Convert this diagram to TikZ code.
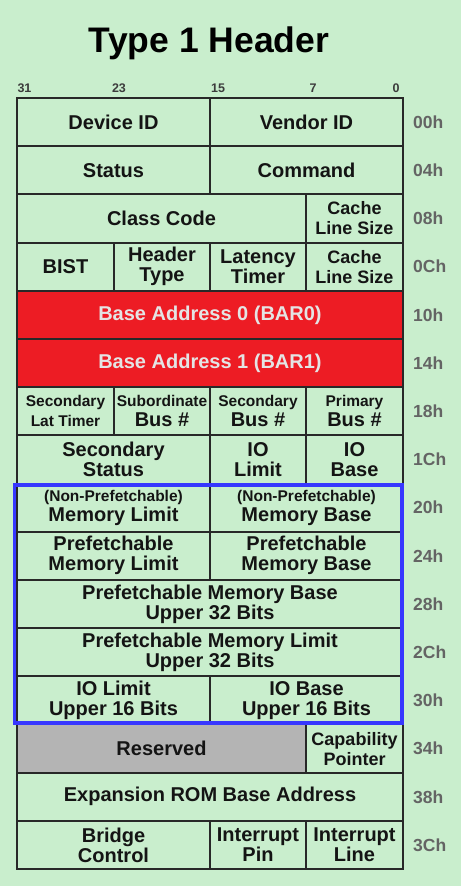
\documentclass[tikz,border=0pt]{standalone}
\usepackage{fontspec}
\setmainfont{Liberation Sans}
\definecolor{bgc}{RGB}{201,238,205}
\definecolor{barred}{RGB}{237,28,36}
\definecolor{redtxt}{RGB}{228,228,228}
\definecolor{resgray}{RGB}{180,180,180}
\definecolor{linec}{RGB}{40,40,40}
\definecolor{frameblue}{RGB}{55,55,255}
\definecolor{offc}{RGB}{100,100,100}
\definecolor{bitc}{RGB}{60,60,60}
\definecolor{txtc}{RGB}{20,20,20}
\newcommand\smallt{\fontsize{15.5}{18}\selectfont}
\newcommand\midt{\fontsize{18}{18.5}\selectfont}
\newcommand\cellat[6]{\node[cell,#5,minimum width={#3-#2},minimum height=48.19] (#1) at ({(#2+#3)/2},{98+48.19*(#4+0.5)}) {#6};}
\begin{document}
\begin{tikzpicture}[x=1pt,y=-1pt,
  cell/.style={draw=linec,line width=2pt,inner sep=0pt,align=center,text=txtc,
    font=\bfseries\fontsize{20}{20}\selectfont},
  redcell/.style={fill=barred,text=redtxt},
  graycell/.style={fill=resgray},
  plain/.style={},
  offs/.style={anchor=west,inner sep=0pt,text=offc,font=\bfseries\fontsize{17.5}{17.5}\selectfont},
  bitlab/.style={anchor=base,inner sep=0pt,text=bitc,font=\bfseries\fontsize{12.5}{12.5}\selectfont},
  blueframe/.style={draw=frameblue,line width=3.5pt}]
\fill[bgc] (0,0) rectangle (461,886);
\useasboundingbox (0,0) rectangle (461,886);
\node[anchor=base,inner sep=0pt,font=\bfseries\fontsize{35.5}{35.5}\selectfont] (title) at (209,52) {Type 1 Header};
\node[bitlab] (b31) at (24.5,92) {31};
\node[bitlab] (b23) at (119,92) {23};
\node[bitlab] (b15) at (218,92) {15};
\node[bitlab] (b7) at (313,92) {7};
\node[bitlab] (b0) at (396,92) {0};
% row 0
\cellat{devid}{17}{210}{0}{plain}{Device ID}
\cellat{vendid}{210}{403}{0}{plain}{Vendor ID}
% row 1
\cellat{status}{17}{210}{1}{plain}{Status}
\cellat{command}{210}{403}{1}{plain}{Command}
% row 2
\cellat{classcode}{17}{306}{2}{plain}{Class Code}
\cellat{clsa}{306}{403}{2}{plain}{\midt Cache\\\midt Line Size}
% row 3
\cellat{bist}{17}{114}{3}{plain}{BIST}
\cellat{htype}{114}{210}{3}{plain}{Header\\Type}
\cellat{lat}{210}{306}{3}{plain}{Latency\\Timer}
\cellat{clsb}{306}{403}{3}{plain}{\midt Cache\\\midt Line Size}
% rows 4,5
\cellat{bar0}{17}{403}{4}{redcell}{Base Address 0 (BAR0)}
\cellat{bar1}{17}{403}{5}{redcell}{Base Address 1 (BAR1)}
% row 6
\cellat{slt}{17}{114}{6}{plain}{\smallt Secondary\\\smallt Lat Timer}
\cellat{subbus}{114}{210}{6}{plain}{\smallt Subordinate\\Bus \#}
\cellat{secbus}{210}{306}{6}{plain}{\smallt Secondary\\Bus \#}
\cellat{pribus}{306}{403}{6}{plain}{\smallt Primary\\Bus \#}
% row 7
\cellat{secstat}{17}{210}{7}{plain}{Secondary\\Status}
\cellat{iolim}{210}{306}{7}{plain}{IO\\Limit}
\cellat{iobase}{306}{403}{7}{plain}{IO\\Base}
% row 8
\cellat{memlim}{17}{210}{8}{plain}{\smallt (Non-Prefetchable)\\Memory Limit}
\cellat{membase}{210}{403}{8}{plain}{\smallt (Non-Prefetchable)\\Memory Base}
% row 9
\cellat{pmemlim}{17}{210}{9}{plain}{Prefetchable\\Memory Limit}
\cellat{pmembase}{210}{403}{9}{plain}{Prefetchable\\Memory Base}
% row 10, 11
\cellat{pmbu}{17}{403}{10}{plain}{Prefetchable Memory Base\\Upper 32 Bits}
\cellat{pmlu}{17}{403}{11}{plain}{Prefetchable Memory Limit\\Upper 32 Bits}
% row 12
\cellat{iolu}{17}{210}{12}{plain}{IO Limit\\Upper 16 Bits}
\cellat{iobu}{210}{403}{12}{plain}{IO Base\\Upper 16 Bits}
% row 13
\cellat{resv}{17}{306}{13}{graycell}{Reserved}
\cellat{cap}{306}{403}{13}{plain}{\midt Capability\\\midt Pointer}
% row 14
\cellat{erom}{17}{403}{14}{plain}{Expansion ROM Base Address}
% row 15
\cellat{bridge}{17}{210}{15}{plain}{Bridge\\Control}
\cellat{intpin}{210}{306}{15}{plain}{Interrupt\\Pin}
\cellat{intline}{306}{403}{15}{plain}{Interrupt\\Line}
% blue frame
\draw[blueframe] (14.5,485) rectangle (402,723);
% offsets
\foreach \lab [count=\i from 0] in {00h,04h,08h,0Ch,10h,14h,18h,1Ch,20h,24h,28h,2Ch,30h,34h,38h,3Ch}
  \node[offs] (off\i) at (413,{98+48.19*(\i+0.5)}) {\lab};
\end{tikzpicture}
\end{document}
